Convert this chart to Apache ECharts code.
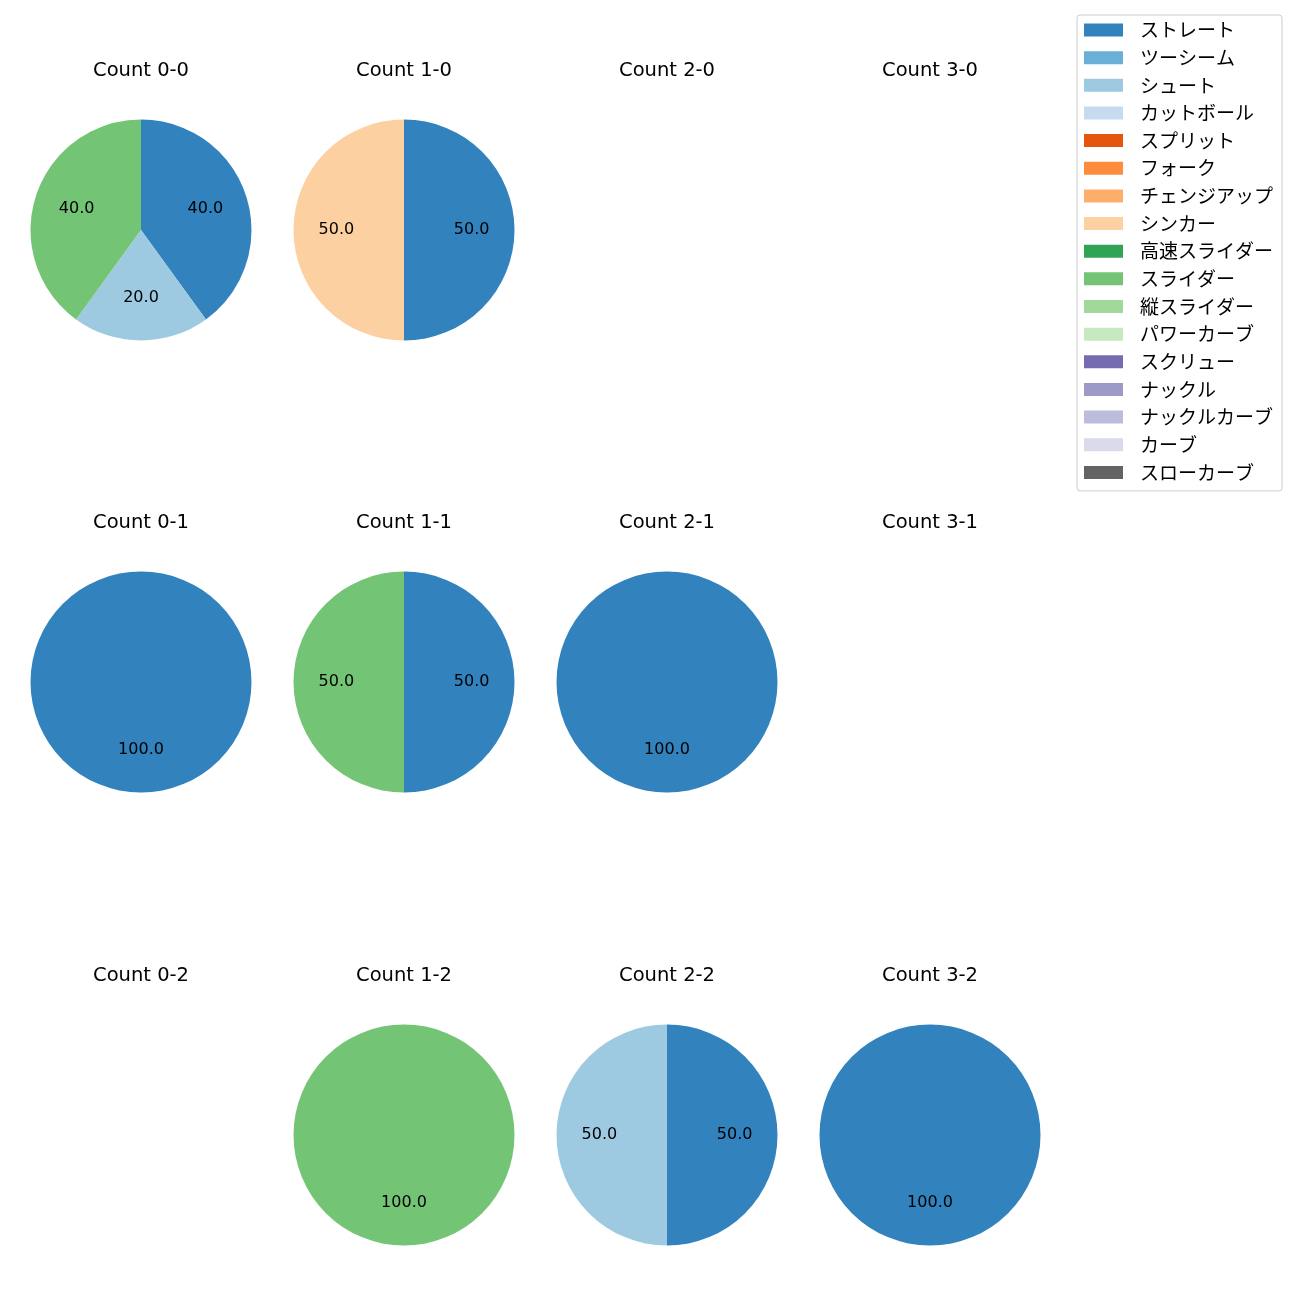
<!DOCTYPE html>
<html><head><meta charset="utf-8">
<script src="https://cdn.jsdelivr.net/npm/echarts@6/dist/echarts.min.js"></script>
<style>html,body{margin:0;padding:0;background:#fff}#c{width:1300px;height:1300px}</style>
</head><body><div id="c"></div>
<script>
const pitchNames = ['ストレート','ツーシーム','シュート','カットボール','スプリット','フォーク','チェンジアップ','シンカー','高速スライダー','スライダー','縦スライダー','パワーカーブ','スクリュー','ナックル','ナックルカーブ','カーブ','スローカーブ'];
const pitchColors = ['#3182bd','#6baed6','#9ecae1','#c6dbef','#e6550d','#fd8d3c','#fdae6b','#fdd0a2','#31a354','#74c476','#a1d99b','#c7e9c0','#756bb1','#9e9ac8','#bcbddc','#dadaeb','#636363'];
// values per pitch type, in pitchNames order
const count00 = [40,0,20,0,0,0,0,0,0,40,0,0,0,0,0,0,0];
const count10 = [50,0,0,0,0,0,0,50,0,0,0,0,0,0,0,0,0];
const count20 = [0,0,0,0,0,0,0,0,0,0,0,0,0,0,0,0,0];
const count30 = [0,0,0,0,0,0,0,0,0,0,0,0,0,0,0,0,0];
const count01 = [100,0,0,0,0,0,0,0,0,0,0,0,0,0,0,0,0];
const count11 = [50,0,0,0,0,0,0,0,0,50,0,0,0,0,0,0,0];
const count21 = [100,0,0,0,0,0,0,0,0,0,0,0,0,0,0,0,0];
const count31 = [0,0,0,0,0,0,0,0,0,0,0,0,0,0,0,0,0];
const count02 = [0,0,0,0,0,0,0,0,0,0,0,0,0,0,0,0,0];
const count12 = [0,0,0,0,0,0,0,0,0,100,0,0,0,0,0,0,0];
const count22 = [50,0,50,0,0,0,0,0,0,0,0,0,0,0,0,0,0];
const count32 = [100,0,0,0,0,0,0,0,0,0,0,0,0,0,0,0,0];
const panels = [
  ['Count 0-0',count00],['Count 1-0',count10],['Count 2-0',count20],['Count 3-0',count30],
  ['Count 0-1',count01],['Count 1-1',count11],['Count 2-1',count21],['Count 3-1',count31],
  ['Count 0-2',count02],['Count 1-2',count12],['Count 2-2',count22],['Count 3-2',count32]
];
const colX = [141,404,667,930];
const rowY = [230,682,1135];
const R = 110.5;
const LATIN = '"DejaVu Sans","Noto Sans CJK JP",sans-serif';
const JP = '"Noto Sans CJK JP",sans-serif';

const titles = [], mainSeries = [], labelSeries = [];
panels.forEach((p, i) => {
  const cx = colX[i % 4], cy = rowY[Math.floor(i / 4)];
  titles.push({text: p[0], left: cx, top: cy - 169, textAlign: 'center', padding: 0,
    textStyle: {fontFamily: LATIN, fontSize: 19.5, lineHeight: 20, fontWeight: 'normal', color: '#000'}});
  const total = p[1].reduce((a, b) => a + b, 0);
  if (total === 0) return;
  const data = pitchNames.map((n, k) => ({name: n, value: p[1][k], itemStyle: {color: pitchColors[k]}}));
  mainSeries.push({type: 'pie', center: [cx, cy], radius: R, startAngle: 90, clockwise: true,
    data: data, label: {show: false}, labelLine: {show: false}, itemStyle: {borderWidth: 0},
    emphasis: {disabled: true}, animation: false, silent: true});
  labelSeries.push({type: 'pie', center: [cx, cy], radius: R * 1.17, startAngle: 90, clockwise: true,
    data: pitchNames.map((n, k) => ({name: n, value: p[1][k], itemStyle: {color: 'rgba(0,0,0,0)'}})),
    label: {show: true, position: 'inside', color: '#000', fontFamily: LATIN, fontSize: 16,
      formatter: prm => prm.value > 0 ? (prm.value / total * 100).toFixed(1) : ''},
    labelLine: {show: false}, itemStyle: {borderWidth: 0}, emphasis: {disabled: true},
    animation: false, silent: true, z: 3});
});

const chart = echarts.init(document.getElementById('c'), null, {renderer: 'canvas'});
chart.setOption({
  backgroundColor: '#fff',
  animation: false,
  title: titles,
  legend: {
    data: pitchNames, orient: 'vertical', left: 1077, top: 15,
    itemWidth: 39, itemHeight: 13, itemGap: 8.65, icon: 'rect',
    padding: [5.5, 9, 9, 7], borderColor: '#cccccc', borderWidth: 1, borderRadius: 3,
    textStyle: {fontFamily: JP, fontSize: 19, lineHeight: 18, color: '#000', padding: [0, 0, 0, 12]},
    selectedMode: false
  },
  series: mainSeries.concat(labelSeries)
});
</script></body></html>
